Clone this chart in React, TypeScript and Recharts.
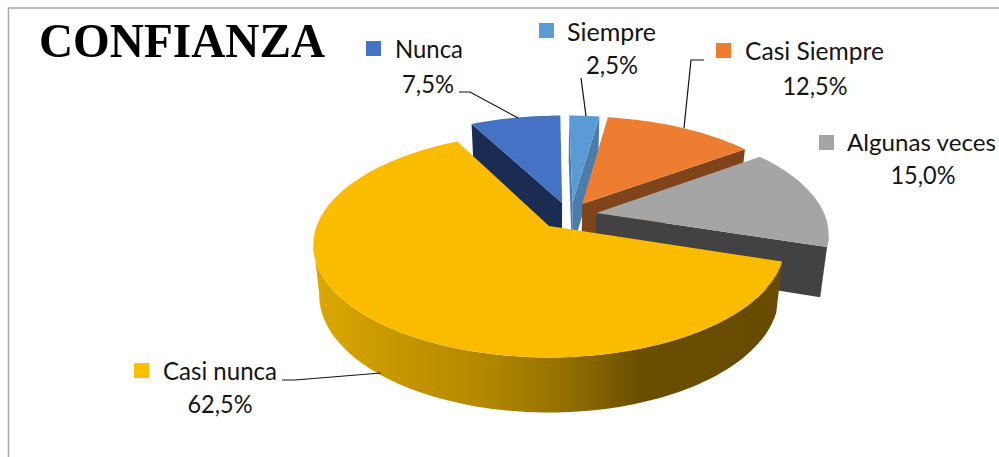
import React from "react";
import { PieChart, Pie } from "recharts";

const categories = ["Siempre", "Casi Siempre", "Algunas veces", "Casi nunca", "Nunca"];
const shares = [2.5, 12.5, 15.0, 62.5, 7.5];
const shareLabels = ["2,5%", "12,5%", "15,0%", "62,5%", "7,5%"];

const topColors = ["#5B9BD5", "#ED7D31", "#A5A5A5", "#FBBC00", "#4472C4"];
const sideColors = ["#4A7DAC", "#7F4419", "#424242", "url(#goldWall)", "#1A2C52"];
const markerColors = ["#5B9BD5", "#ED7D31", "#A5A5A5", "#FFC000", "#4472C4"];
const explodeU = [0.105, 0.148, 0.208, 0, 0.0585];
const explodeV = [0.22, 0.21, 0.122, 0, 0.219];

const labelLayout = [
  { mx: 539, my: 23, tx: 567, ty: 41, tw: 89, fs: 25, px: 612, py: 74, pw: 52, lead: "M581 78L586 116" },
  { mx: 716, my: 43, tx: 745, ty: 60, tw: 139, fs: 25, px: 815, py: 95, pw: 65, lead: "M704 60L691 60L684 128" },
  { mx: 819, my: 135, tx: 847, ty: 151, tw: 149, fs: 24, px: 923, py: 184, pw: 65, lead: "" },
  { mx: 134, my: 363, tx: 163, ty: 380, tw: 114, fs: 25, px: 220, py: 413, pw: 65, lead: "M282 380L295 380L381 373" },
  { mx: 366, my: 41, tx: 395, ty: 58, tw: 68, fs: 25, px: 428, py: 93, pw: 52, lead: "M459 92L470 92L518 118" },
];

const PERSP = 0.169;
const FX = 232.3 / 234;
const FY = 109.2 / 234;
const FONT = "Lato, 'Noto Sans', sans-serif";

type Pt = [number, number];
const rad = (d: number) => (d * Math.PI) / 180;

function project(cx: number, cy: number, R: number, u: number, v: number): Pt {
  const w = 1 + PERSP * v;
  return [cx + (R * FX * u) / w, cy - (R * FY * v) / w];
}
function extrude(cx: number, p: Pt): Pt {
  return [cx + (p[0] - cx) * 0.975, p[1] + 50 + (p[1] - 245) * 0.045];
}
const toPath = (pts: Pt[]) =>
  pts.map((p, i) => `${i ? "L" : "M"}${p[0].toFixed(1)} ${p[1].toFixed(1)}`).join("") + "Z";

function sideOf(a: Pt, b: Pt, c: Pt) {
  return (b[0] - a[0]) * (c[1] - a[1]) - (b[1] - a[1]) * (c[0] - a[0]);
}

function Slice3D(props: any, only: (i: number) => boolean) {
  const { cx, cy, outerRadius: R, startAngle, endAngle, index } = props;
  if (!only(index)) return <g />;
  const a1 = 90 - startAngle;
  const a2 = 90 - endAngle;
  const du = explodeU[index];
  const dv = explodeV[index];
  const apex = project(cx, cy, R, du, dv);
  const rim: Pt[] = [];
  const n = Math.max(4, Math.ceil((a2 - a1) / 1.5));
  for (let i = 0; i <= n; i++) {
    const a = rad(a1 + ((a2 - a1) * i) / n);
    rim.push(project(cx, cy, R, du + Math.sin(a), dv + Math.cos(a)));
  }
  const mid = rim[Math.floor(n / 2)];
  const walls: string[] = [];
  let run: Pt[] = [];
  const flush = () => {
    if (run.length > 1) {
      walls.push(toPath([...run, ...run.slice().reverse().map((p) => extrude(cx, p))]));
    }
    run = [];
  };
  for (let i = 0; i < n; i++) {
    if (rim[i + 1][0] < rim[i][0]) {
      if (!run.length) run.push(rim[i]);
      run.push(rim[i + 1]);
    } else flush();
  }
  flush();
  const faces: string[] = [];
  for (const edge of [rim[0], rim[n]]) {
    const below: Pt = [apex[0], apex[1] + 1];
    const s1 = sideOf(apex, edge, below);
    const s2 = sideOf(apex, edge, mid);
    if (s1 * s2 < 0 && Math.abs(edge[0] - apex[0]) > 1) {
      faces.push(toPath([apex, edge, extrude(cx, edge), extrude(cx, apex)]));
    }
  }
  const fill = sideColors[index];
  return (
    <g>
      {faces.map((d, i) => (
        <path key={`f${i}`} d={d} fill={fill} />
      ))}
      {walls.map((d, i) => (
        <path key={`w${i}`} d={d} fill={fill} />
      ))}
      <path d={toPath([apex, ...rim])} fill={topColors[index]} />
    </g>
  );
}

function renderLabel(props: any) {
  const i = props.index;
  const l = labelLayout[i];
  const style = { fontFamily: FONT, fill: "#141414", lengthAdjust: "spacingAndGlyphs" as const };
  return (
    <g key={categories[i]}>
      {l.lead ? <path d={l.lead} fill="none" stroke="#111" strokeWidth={1.2} /> : null}
      <rect x={l.mx} y={l.my} width={15} height={15} fill={markerColors[i]} />
      <text x={l.tx} y={l.ty} textLength={l.tw} fontSize={l.fs} {...style}>
        {categories[i]}
      </text>
      <text x={l.px - l.pw / 2} y={l.py} textLength={l.pw} fontSize={25} {...style}>
        {shareLabels[i]}
      </text>
    </g>
  );
}

const chartData = categories.map((name, i) => ({ name, value: shares[i] }));

export default function App() {
  return (
    <div style={{ position: "absolute", left: 0, top: 0, width: 999, height: 457, background: "#fff", overflow: "hidden" }}>
      <PieChart width={999} height={457} margin={{ top: 0, right: 0, bottom: 0, left: 0 }}>
        <defs>
          <linearGradient id="goldWall" gradientUnits="userSpaceOnUse" x1="314" y1="0" x2="782" y2="0">
            <stop offset="0" stopColor="#DCA800" />
            <stop offset="0.14" stopColor="#CB9A00" />
            <stop offset="0.355" stopColor="#B48900" />
            <stop offset="0.525" stopColor="#967100" />
            <stop offset="0.7" stopColor="#6A4E00" />
            <stop offset="1" stopColor="#664B00" />
          </linearGradient>
        </defs>
        <path d="M8.5 457L8.5 8L999 8" fill="none" stroke="#ABABAB" strokeWidth={1.6} />
        <text
          x={39}
          y={57}
          fontFamily="'Liberation Serif', serif"
          fontWeight="bold"
          fontSize={49}
          textLength={286}
          lengthAdjust="spacingAndGlyphs"
          fill="#000"
        >
          CONFIANZA
        </text>
        <Pie
          data={chartData}
          dataKey="value"
          nameKey="name"
          cx={549}
          cy={226}
          outerRadius={234}
          startAngle={90}
          endAngle={-270}
          stroke="none"
          isAnimationActive={false}
          labelLine={false}
          shape={(p: any) => Slice3D(p, (i) => i !== 3)}
        />
        <Pie
          data={chartData}
          dataKey="value"
          nameKey="name"
          cx={549}
          cy={226}
          outerRadius={234}
          startAngle={90}
          endAngle={-270}
          stroke="none"
          isAnimationActive={false}
          labelLine={false}
          label={renderLabel}
          shape={(p: any) => Slice3D(p, (i) => i === 3)}
        />
      </PieChart>
    </div>
  );
}
